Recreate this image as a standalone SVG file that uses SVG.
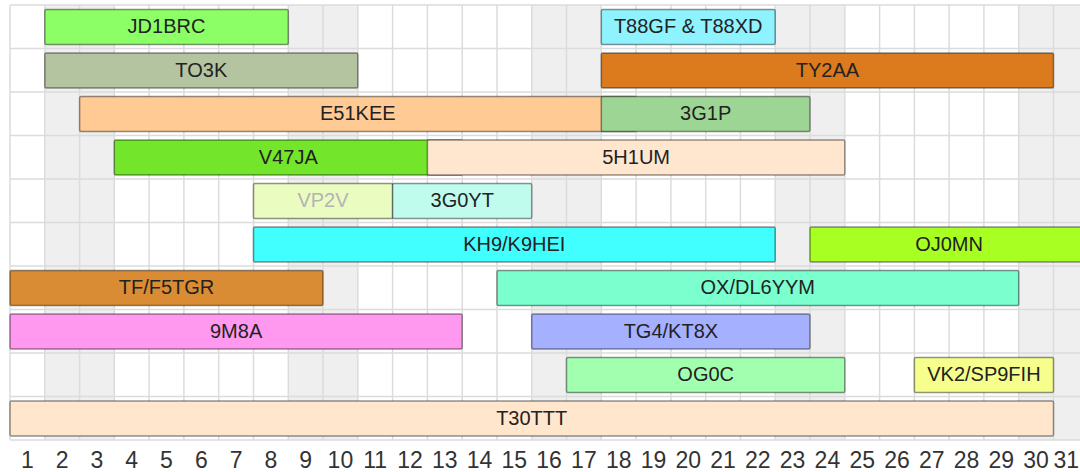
<svg xmlns="http://www.w3.org/2000/svg" width="1080" height="472" viewBox="0 0 1080 472">
<style>
.wk{fill:#efefef}
.gl{stroke:#dcdcdc;stroke-width:1.5;fill:none}
.bar{stroke:#000;stroke-opacity:0.42;stroke-width:1.5}
.bl{font-family:"Liberation Sans",Arial,sans-serif;font-size:20px;fill:#222;text-anchor:middle}
.ax{font-family:"Liberation Sans",Arial,sans-serif;font-size:23px;fill:#333;text-anchor:middle}
</style>
<rect width="1080" height="472" fill="#fff"/>
<g id="background">
<rect class="wk" x="44.8" y="5" width="69.6" height="435"/>
<rect class="wk" x="288.3" y="5" width="69.6" height="435"/>
<rect class="wk" x="531.7" y="5" width="69.6" height="435"/>
<rect class="wk" x="775.2" y="5" width="69.6" height="435"/>
<rect class="wk" x="1018.7" y="5" width="69.6" height="435"/>
<path class="gl" d="M10 5V440M44.8 5V440M79.6 5V440M114.3 5V440M149.1 5V440M183.9 5V440M218.7 5V440M253.5 5V440M288.3 5V440M323 5V440M357.8 5V440M392.6 5V440M427.4 5V440M462.2 5V440M497 5V440M531.7 5V440M566.5 5V440M601.3 5V440M636.1 5V440M670.9 5V440M705.7 5V440M740.4 5V440M775.2 5V440M810 5V440M844.8 5V440M879.6 5V440M914.4 5V440M949.1 5V440M983.9 5V440M1018.7 5V440M1053.5 5V440"/>
<path class="gl" d="M10 5H1080M10 48.5H1080M10 92H1080M10 135.5H1080M10 179H1080M10 222.5H1080M10 266H1080M10 309.5H1080M10 353H1080M10 396.5H1080M10 440H1080"/>
</g>
<g id="axis">
<text class="ax" x="27.4" y="468">1</text><text class="ax" x="62.2" y="468">2</text><text class="ax" x="97" y="468">3</text><text class="ax" x="131.7" y="468">4</text><text class="ax" x="166.5" y="468">5</text><text class="ax" x="201.3" y="468">6</text><text class="ax" x="236.1" y="468">7</text><text class="ax" x="270.9" y="468">8</text><text class="ax" x="305.7" y="468">9</text><text class="ax" x="340.4" y="468">10</text><text class="ax" x="375.2" y="468">11</text><text class="ax" x="410" y="468">12</text><text class="ax" x="444.8" y="468">13</text><text class="ax" x="479.6" y="468">14</text><text class="ax" x="514.3" y="468">15</text><text class="ax" x="549.1" y="468">16</text><text class="ax" x="583.9" y="468">17</text><text class="ax" x="618.7" y="468">18</text><text class="ax" x="653.5" y="468">19</text><text class="ax" x="688.3" y="468">20</text><text class="ax" x="723" y="468">21</text><text class="ax" x="757.8" y="468">22</text><text class="ax" x="792.6" y="468">23</text><text class="ax" x="827.4" y="468">24</text><text class="ax" x="862.2" y="468">25</text><text class="ax" x="897" y="468">26</text><text class="ax" x="931.7" y="468">27</text><text class="ax" x="966.5" y="468">28</text><text class="ax" x="1001.3" y="468">29</text><text class="ax" x="1036.1" y="468">30</text><text class="ax" x="1079" y="468" style="text-anchor:end">31</text>
</g>
<g id="connectors"/>
<g id="JD1BRC"><rect class="bar" x="44.8" y="9.5" width="243.5" height="35" rx="1.5" fill="#8cff66"/><text class="bl" x="166.5" y="33">JD1BRC</text></g>
<g id="T88GF"><rect class="bar" x="601.3" y="9.5" width="173.9" height="35" rx="1.5" fill="#8ef2ff"/><text class="bl" x="688.2" y="33">T88GF &amp; T88XD</text></g>
<g id="TO3K"><rect class="bar" x="44.8" y="53" width="313" height="35" rx="1.5" fill="#b5c4a0"/><text class="bl" x="201.3" y="76.5">TO3K</text></g>
<g id="TY2AA"><rect class="bar" x="601.3" y="53" width="452.2" height="35" rx="1.5" fill="#dc7a1e"/><text class="bl" x="827.4" y="76.5">TY2AA</text></g>
<g id="E51KEE"><rect class="bar" x="79.6" y="96.5" width="556.5" height="35" rx="1.5" fill="#ffca94"/><text class="bl" x="357.8" y="120">E51KEE</text></g>
<g id="G3G1P"><rect class="bar" x="601.3" y="96.5" width="208.7" height="35" rx="1.5" fill="#9dd595"/><text class="bl" x="705.7" y="120">3G1P</text></g>
<g id="V47JA"><rect class="bar" x="114.3" y="140" width="347.9" height="35" rx="1.5" fill="#73e52b"/><text class="bl" x="288.3" y="163.5">V47JA</text></g>
<g id="H5H1UM"><rect class="bar" x="427.4" y="140" width="417.4" height="35" rx="1.5" fill="#ffe6cf"/><text class="bl" x="636.1" y="163.5">5H1UM</text></g>
<g id="VP2V"><rect class="bar" x="253.5" y="183.5" width="139.1" height="35" rx="1.5" fill="#ebfcc0"/><text class="bl" x="323" y="207" style="fill:#b4b4b4">VP2V</text></g>
<g id="G3G0YT"><rect class="bar" x="392.6" y="183.5" width="139.1" height="35" rx="1.5" fill="#c0fcee"/><text class="bl" x="462.2" y="207">3G0YT</text></g>
<g id="KH9"><rect class="bar" x="253.5" y="227" width="521.7" height="35" rx="1.5" fill="#42ffff"/><text class="bl" x="514.3" y="250.5">KH9/K9HEI</text></g>
<g id="OJ0MN"><rect class="bar" x="810" y="227" width="278.3" height="35" rx="1.5" fill="#a8ff22"/><text class="bl" x="949.1" y="250.5">OJ0MN</text></g>
<g id="TF"><rect class="bar" x="10" y="270.5" width="313" height="35" rx="1.5" fill="#d98c33"/><text class="bl" x="166.5" y="294">TF/F5TGR</text></g>
<g id="OX"><rect class="bar" x="497" y="270.5" width="521.7" height="35" rx="1.5" fill="#7bffcf"/><text class="bl" x="757.8" y="294">OX/DL6YYM</text></g>
<g id="M9M8A"><rect class="bar" x="10" y="314" width="452.2" height="35" rx="1.5" fill="#ff99f0"/><text class="bl" x="236.1" y="337.5">9M8A</text></g>
<g id="TG4"><rect class="bar" x="531.7" y="314" width="278.3" height="35" rx="1.5" fill="#a5b0ff"/><text class="bl" x="670.9" y="337.5">TG4/KT8X</text></g>
<g id="OG0C"><rect class="bar" x="566.5" y="357.5" width="278.3" height="35" rx="1.5" fill="#a2ffb0"/><text class="bl" x="705.7" y="381">OG0C</text></g>
<g id="VK2"><rect class="bar" x="914.4" y="357.5" width="139.1" height="35" rx="1.5" fill="#f6ff8c"/><text class="bl" x="983.9" y="381">VK2/SP9FIH</text></g>
<g id="T30TTT"><rect class="bar" x="10" y="401" width="1043.5" height="35" rx="1.5" fill="#ffe6cc"/><text class="bl" x="531.7" y="424.5">T30TTT</text></g>
</svg>
